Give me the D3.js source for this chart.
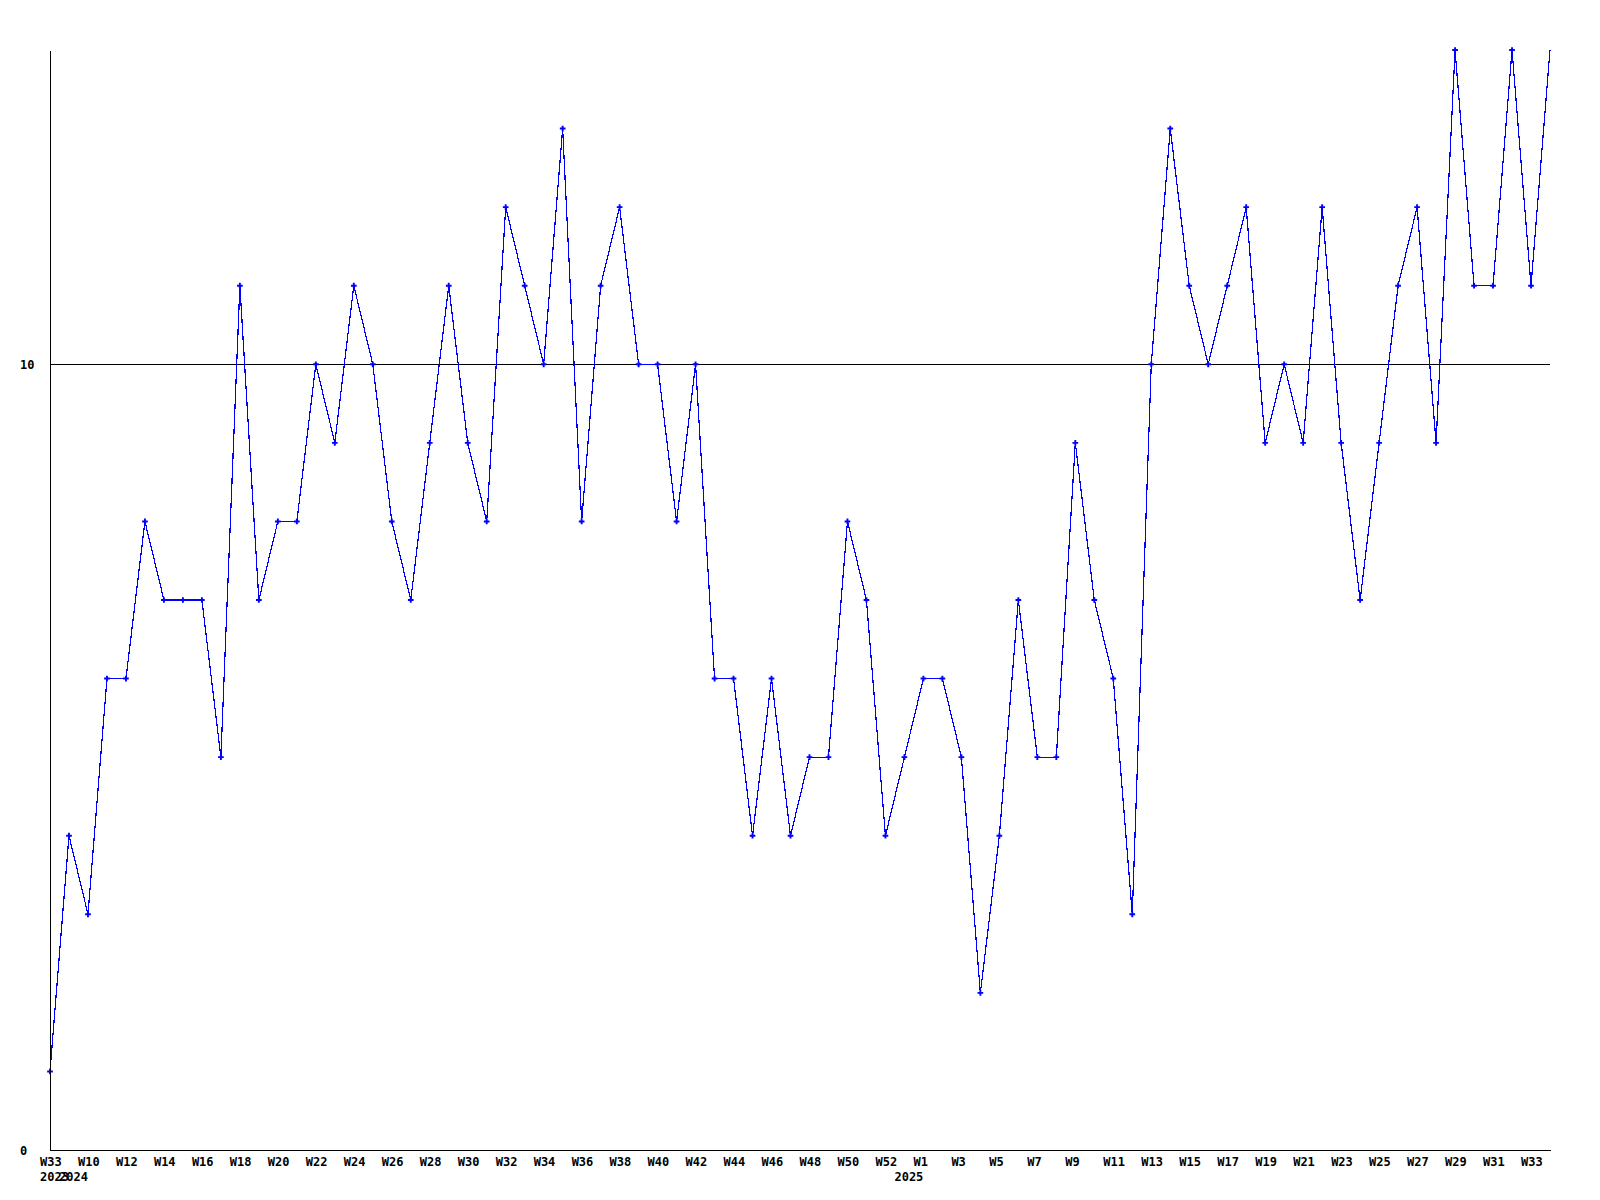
<!DOCTYPE html>
<html>
<head>
<meta charset="utf-8">
<script src="https://cdn.jsdelivr.net/npm/d3@7"></script>
<style>
  html, body { margin: 0; padding: 0; background: #fff; }
  svg { display: block; }
  .lbl text { font-family: "DejaVu Sans Mono", "Liberation Mono", monospace; font-weight: bold; font-size: 12px; fill: #000; }
</style>
</head>
<body>
<svg id="chart" width="1600" height="1200"></svg>
<script>
const weeks = ["W33","W9","W10","W11","W12","W13","W14","W15","W16","W17","W18","W19","W20","W21","W22","W23","W24","W25","W26","W27","W28","W29","W30","W31","W32","W33","W34","W35","W36","W37","W38","W39","W40","W41","W42","W43","W44","W45","W46","W47","W48","W49","W50","W51","W52","W0","W1","W2","W3","W4","W5","W6","W7","W8","W9","W10","W11","W12","W13","W14","W15","W16","W17","W18","W19","W20","W21","W22","W23","W24","W25","W26","W27","W28","W29","W30","W31","W32","W33","W34"];
const years = [2023,
  2024,2024,2024,2024,2024,2024,2024,2024,2024,2024,2024,2024,2024,2024,2024,2024,2024,2024,2024,2024,2024,2024,
  2024,2024,2024,2024,2024,2024,2024,2024,2024,2024,2024,2024,2024,2024,2024,2024,2024,2024,2024,2024,2024,2024,
  2025,2025,2025,2025,2025,2025,2025,2025,2025,2025,2025,2025,2025,2025,2025,2025,2025,2025,2025,2025,2025,2025,
  2025,2025,2025,2025,2025,2025,2025,2025,2025,2025,2025,2025,2025,2025,2025,2025,2025];
const values = [1,4,3,6,6,8,7,7,7,5,
  11,7,8,8,10,9,11,10,8,7,
  9,11,9,8,12,11,10,13,8,11,
  12,10,10,8,10,6,6,4,6,4,
  5,5,8,7,4,5,6,6,5,2,
  4,7,5,5,9,7,6,3,10,13,
  11,10,11,12,9,10,9,12,9,7,
  9,11,12,9,14,11,11,14,11,14];
const yTicks = [0, 10];
const yMax = 14;

(function () {
  const svg = d3.select("#chart");
  const pL = 50, pR = 1550, pT = 50, pB = 1150;
  const idx = values.map((_, i) => i);

  const x = d3.scalePoint().domain(idx).range([pL, pR]);
  const y = d3.scaleLinear().domain([0, yMax]).range([pB, pT]);

  // reference line at 10
  svg.append("g").selectAll("line").data(yTicks.filter(t => t > 0)).join("line")
    .attr("x1", pL).attr("x2", pR)
    .attr("y1", d => y(d) + 0.5).attr("y2", d => y(d) + 0.5)
    .attr("stroke", "#000").attr("stroke-width", 1)
    .attr("shape-rendering", "crispEdges");

  // line
  const line = d3.line().x((d, i) => x(i)).y(d => y(d));
  svg.append("path").datum(values)
    .attr("d", line)
    .attr("fill", "none")
    .attr("stroke", "#0000ff")
    .attr("stroke-width", 1.2)
    .attr("shape-rendering", "crispEdges");

  // markers (last, partial point has none)
  const sym = d3.symbol().type(d3.symbolCross).size(18);
  svg.append("g").selectAll("path").data(values.slice(0, -1)).join("path")
    .attr("d", sym)
    .attr("transform", (d, i) => `translate(${x(i)},${y(d)})`)
    .attr("fill", "#0000ff");

  // x axis: weeks
  const xAxis = d3.axisBottom(x).tickSize(0).tickPadding(0)
    .tickFormat(i => (i % 2 === 0 ? weeks[i] : ""));
  const gx = svg.append("g").attr("class", "lbl")
    .attr("transform", `translate(0,${pB})`).call(xAxis);
  gx.select(".domain").attr("stroke", "#000").attr("shape-rendering", "crispEdges");
  gx.selectAll("text").attr("text-anchor", "start").attr("x", -10.5).attr("y", 16).attr("dy", 0);

  // x axis: years (at first week of each year)
  const yearAxis = d3.axisBottom(x).tickSize(0).tickPadding(0)
    .tickFormat(i => (i === 0 || years[i] !== years[i - 1] ? String(years[i]) : ""));
  const gyr = svg.append("g").attr("class", "lbl")
    .attr("transform", `translate(0,${pB})`).call(yearAxis);
  gyr.select(".domain").remove();
  gyr.selectAll("text").attr("text-anchor", "start").attr("x", -10.5).attr("y", 31).attr("dy", 0);

  // y axis
  const yAxis = d3.axisLeft(y).tickValues(yTicks).tickSize(0).tickPadding(0)
    .tickFormat(d3.format("d"));
  const gy = svg.append("g").attr("class", "lbl")
    .attr("transform", `translate(${pL},0)`).call(yAxis);
  gy.select(".domain").attr("stroke", "#000").attr("shape-rendering", "crispEdges");
  gy.selectAll("text").attr("text-anchor", "start").attr("x", 20 - pL).attr("dy", "0.35em");
})();
</script>
</body>
</html>
